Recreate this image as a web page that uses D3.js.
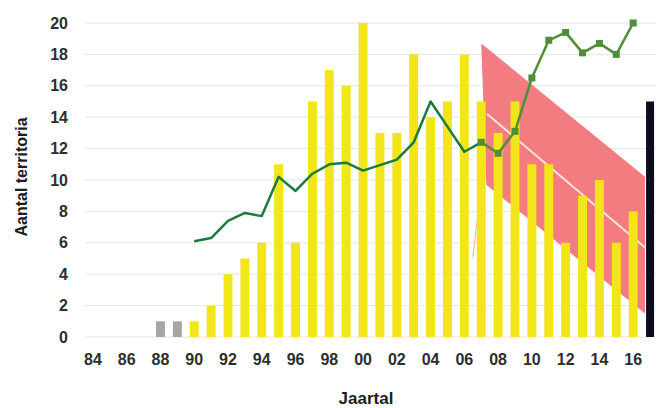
<!DOCTYPE html>
<html><head><meta charset="utf-8">
<script src="https://cdn.jsdelivr.net/npm/d3@7"></script>
<style>html,body{margin:0;padding:0;background:#fff;}svg{display:block;}</style>
</head><body>
<svg id="c" width="656" height="408"></svg>
<script>
const years = [1984,1985,1986,1987,1988,1989,1990,1991,1992,1993,1994,1995,1996,1997,1998,1999,2000,2001,2002,2003,2004,2005,2006,2007,2008,2009,2010,2011,2012,2013,2014,2015,2016,2017];
const tickYears = [1984,1986,1988,1990,1992,1994,1996,1998,2000,2002,2004,2006,2008,2010,2012,2014,2016];
const tickLabels = ["84","86","88","90","92","94","96","98","00","02","04","06","08","10","12","14","16"];
const yTicks = [0,2,4,6,8,10,12,14,16,18,20];

const greyYears = [1988,1989];
const greyValues = [1,1];
const yellowYears = [1990,1991,1992,1993,1994,1995,1996,1997,1998,1999,2000,2001,2002,2003,2004,2005,2006,2007,2008,2009,2010,2011,2012,2013,2014,2015,2016];
const yellowValues = [1,2,4,5,6,11,6,15,17,16,20,13,13,18,14,15,18,15,13,15,11,11,6,9,10,6,8];
const blackYears = [2017];
const blackValues = [15];

const trendYears = [1990,1991,1992,1993,1994,1995,1996,1997,1998,1999,2000,2001,2002,2003,2004,2005,2006,2007];
const trendValues = [6.1,6.3,7.4,7.9,7.7,10.2,9.3,10.4,11.0,11.1,10.6,10.95,11.3,12.4,15.0,13.4,11.8,12.4];
const markYears = [2007,2008,2009,2010,2011,2012,2013,2014,2015,2016];
const markValues = [12.4,11.7,13.1,16.5,18.9,19.4,18.1,18.7,18.0,20.0];

const bandYears = [2007.0,2016.7,2016.7,2007.3];
const bandValues = [18.7,10.2,1.5,9.7];
const midYears = [2007.35,2016.7];
const midValues = [14.2,5.7];
const faintYears = [2007.0,2006.5];
const faintValues = [9.55,5.1];

const svg = d3.select("#c");
const x = d3.scaleBand().domain(years).range([84.5,658.5]).paddingInner(0.47).paddingOuter(0.235);
const bw = x.bandwidth();
const xl = d3.scaleLinear().domain([1984,2017]).range([x(1984)+bw/2, x(2017)+bw/2]);
const y = d3.scaleLinear().domain([0,20]).range([337,23]);

// gridlines
svg.append("g").selectAll("line").data(yTicks).join("line")
  .attr("x1",85).attr("x2",656).attr("y1",d=>y(d)).attr("y2",d=>y(d))
  .attr("stroke","#e6e6e6").attr("stroke-width",1);

// y labels
svg.append("g").selectAll("text").data(yTicks).join("text")
  .attr("x",68).attr("y",d=>y(d)).attr("text-anchor","end").attr("dominant-baseline","central")
  .attr("font-family","Liberation Sans, Arial, sans-serif").attr("font-weight","bold").attr("font-size",16)
  .attr("fill","#2e2e2e").text(d=>d);

// x labels
svg.append("g").selectAll("text").data(tickYears).join("text")
  .attr("x",d=>x(d)+bw/2).attr("y",359).attr("text-anchor","middle").attr("dominant-baseline","central")
  .attr("font-family","Liberation Sans, Arial, sans-serif").attr("font-weight","bold").attr("font-size",16)
  .attr("fill","#2e2e2e").text((d,i)=>tickLabels[i]);

// titles
svg.append("text").attr("transform","translate(21,177) rotate(-90)")
  .attr("text-anchor","middle").attr("dominant-baseline","central")
  .attr("font-family","Liberation Sans, Arial, sans-serif").attr("font-weight","bold").attr("font-size",16)
  .attr("fill","#1e1e1e").text("Aantal territoria");
svg.append("text").attr("x",366).attr("y",398)
  .attr("text-anchor","middle").attr("dominant-baseline","central")
  .attr("font-family","Liberation Sans, Arial, sans-serif").attr("font-weight","bold").attr("font-size",17)
  .attr("fill","#1e1e1e").text("Jaartal");

// red band
const bandPts = bandYears.map((d,i)=>[xl(d), y(bandValues[i])]);
svg.append("path").attr("d", d3.line()(bandPts)+"Z").attr("fill","#f27c80");
svg.append("path").attr("d", d3.line()(faintYears.map((d,i)=>[xl(d), y(faintValues[i])])))
  .attr("stroke","#f5a8aa").attr("stroke-width",1).attr("fill","none");
svg.append("path").attr("d", d3.line()(midYears.map((d,i)=>[xl(d), y(midValues[i])])))
  .attr("stroke","#fbe3e3").attr("stroke-width",2).attr("fill","none");

// bars
function bars(ys, vs, color, w){
  svg.append("g").selectAll("rect").data(ys).join("rect")
    .attr("x",d=>x(d)+bw/2-w/2).attr("width",w)
    .attr("y",(d,i)=>y(vs[i])).attr("height",(d,i)=>y(0)-y(vs[i]))
    .attr("fill",color);
}
bars(greyYears, greyValues, "#a6a6a6", bw);
bars(yellowYears, yellowValues, "#f2e51a", bw);
bars(blackYears, blackValues, "#0c0c1c", 8);

// lines
const ln = d3.line().x(d=>xl(d[0])).y(d=>y(d[1]));
svg.append("path").attr("d", ln(markYears.map((d,i)=>[d,markValues[i]])))
  .attr("stroke","#4f8f3a").attr("stroke-width",2.5).attr("fill","none").attr("stroke-linejoin","round");
svg.append("path").attr("d", ln(trendYears.map((d,i)=>[d,trendValues[i]])))
  .attr("stroke","#1d7a3e").attr("stroke-width",2.5).attr("fill","none").attr("stroke-linejoin","round");
svg.append("g").selectAll("rect").data(markYears).join("rect")
  .attr("x",d=>xl(d)-3.5).attr("y",(d,i)=>y(markValues[i])-3.5).attr("width",7).attr("height",7)
  .attr("fill","#4f8f3a");
</script>
</body></html>
